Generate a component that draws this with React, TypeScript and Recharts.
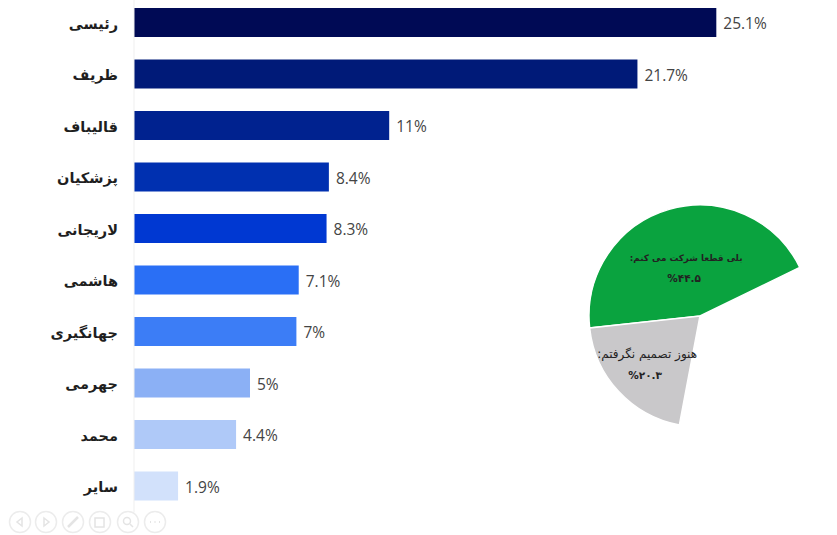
import React from 'react';
import { Bar, BarChart, Cell, LabelList, Pie, PieChart, XAxis, YAxis } from 'recharts';

const candidates = ['رئیسی', 'ظریف', 'قالیباف', 'پزشکیان', 'لاریجانی', 'هاشمی', 'جهانگیری', 'جهرمی', 'محمد', 'سایر'];
const shares = [25.1, 21.7, 11, 8.4, 8.3, 7.1, 7, 5, 4.4, 1.9];
const barColors = ['#000a55', '#001a78', '#00228f', '#0030b0', '#0038d2', '#2a6ff5', '#3c7df6', '#8bb0f5', '#afc9f8', '#d2e1fb'];

const turnoutAnswers = ['بلی قطعا شرکت می کنم:', 'هنوز تصمیم نگرفتم:'];
const turnoutValues = [44.5, 20.3];
const turnoutLabels = ['%۴۴.۵', '%۲۰.۳'];
const turnoutColors = ['#0aa33f', '#c9c8ca'];

const barData = candidates.map((name, i) => ({ name, share: shares[i] }));
const pieData = turnoutAnswers.map((answer, i) => ({ answer, value: turnoutValues[i], text: turnoutLabels[i] }));

const PIE_START = 26;
// the slices only cover the answered part of the full circle
const PIE_END = PIE_START + (turnoutValues[0] + turnoutValues[1]) * 3.6;

const CategoryTick = ({ x, y, payload }: any) => (
  <text x={x} y={y} dy={6} textAnchor="end" fontFamily="'DejaVu Sans', sans-serif" fontSize={14.5} fontWeight={700} fill="#1f1f1f">
    {payload.value}
  </text>
);

const SliceLabel = ({ cx, cy, midAngle, index, payload }: any) => {
  const r = index === 0 ? 50 : 72;
  const size = index === 0 ? 8.8 : 12;
  const rad = (midAngle * Math.PI) / 180;
  const x = cx + r * Math.cos(rad);
  const y = cy - r * Math.sin(rad);
  return (
    <text textAnchor="middle" direction="rtl" fontFamily="'DejaVu Sans', sans-serif" fontSize={size} fontWeight={index === 0 ? 700 : 400} fill="#222">
      <tspan x={x} y={y - 7}>{payload.answer}</tspan>
      <tspan x={x - 2} y={y + 14} fontSize={10.5} fontWeight={700}>{payload.text}</tspan>
    </text>
  );
};

// Slideshow controls along the bottom edge
const toolbar = [20, 46, 73, 100, 128, 155];
const Toolbar = () => (
  <svg width={180} height={30} style={{ position: 'absolute', left: 0, top: 507 }}>
    {toolbar.map(cx => (
      <circle key={cx} cx={cx} cy={15} r={10.5} fill="none" stroke="#ececec" strokeWidth={1.5} />
    ))}
    <g fill="none" stroke="#e4e4e4" strokeWidth={1.5}>
      <path d="M22 11 L17 15 L22 19 Z" />
      <path d="M44 11 L49 15 L44 19 Z" />
      <path d="M68 20 L78 10" strokeWidth={2.5} />
      <rect x={95} y={11} width={9} height={9} />
      <circle cx={127} cy={14} r={3.5} />
      <path d="M130 17 L133 20" />
      <path d="M150 15 H151 M154.500 15 H155.500 M159 15 H160" strokeWidth={2} />
    </g>
  </svg>
);

export default function App() {
  return (
    <div style={{ position: 'absolute', left: 0, top: 0, width: 837, height: 535, overflow: 'hidden', background: '#fff' }}>
      <div style={{ position: 'absolute', left: 0, top: -3 }}>
        <BarChart
          width={830}
          height={515}
          layout="vertical"
          data={barData}
          margin={{ top: 0, right: 0, bottom: 0, left: 0 }}
          barSize={29}
        >
          <XAxis type="number" hide domain={[0, 30]} />
          <YAxis
            type="category"
            dataKey="name"
            width={134}
            tick={<CategoryTick />}
            tickLine={false}
            tickMargin={10}
            axisLine={{ stroke: '#efefef' }}
            interval={0}
          />
          <Bar dataKey="share" isAnimationActive={false}>
            {barData.map((d, i) => (
              <Cell key={d.name} fill={barColors[i]} />
            ))}
            <LabelList
              dataKey="share"
              position="right"
              offset={7}
              formatter={(v: any) => `${v}%`}
              style={{ fontFamily: "'Open Sans', sans-serif", fontSize: 15.5, fill: '#444', transform: 'translateY(1px)' }}
            />
          </Bar>
        </BarChart>
      </div>
      <div style={{ position: 'absolute', left: 567, top: 187 }}>
        <PieChart width={240} height={250}>
          <Pie
            data={pieData}
            dataKey="value"
            cx={128}
            cy={124}
            innerRadius={0}
            outerRadius={111}
            startAngle={PIE_START}
            endAngle={PIE_END}
            stroke="#ffffff"
            strokeWidth={1.5}
            label={<SliceLabel />}
            labelLine={false}
            isAnimationActive={false}
          >
            {pieData.map((d, i) => (
              <Cell key={d.answer} fill={turnoutColors[i]} />
            ))}
          </Pie>
        </PieChart>
      </div>
      <Toolbar />
    </div>
  );
}
